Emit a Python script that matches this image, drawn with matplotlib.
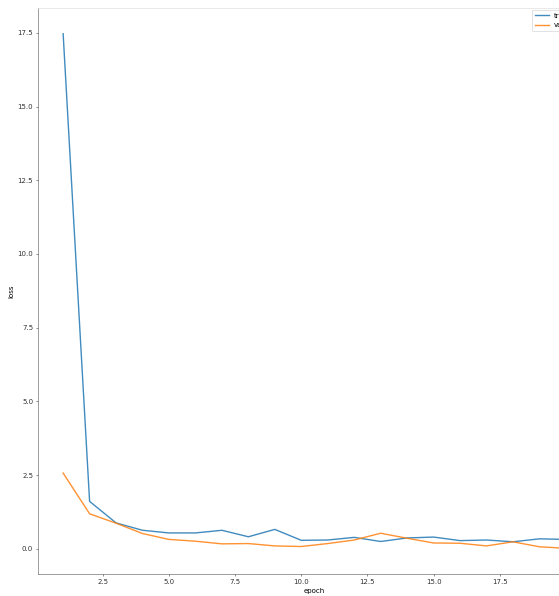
import matplotlib
matplotlib.use("Agg")
import matplotlib.pyplot as plt

epochs = list(range(1, 21))
train_loss = [17.47, 1.61, 0.88, 0.63, 0.54, 0.54, 0.63, 0.41, 0.66, 0.29,
              0.30, 0.39, 0.25, 0.37, 0.40, 0.28, 0.30, 0.24, 0.34, 0.32]
val_loss = [2.57, 1.19, 0.87, 0.52, 0.32, 0.26, 0.17, 0.18, 0.10, 0.08,
            0.18, 0.30, 0.53, 0.36, 0.20, 0.19, 0.10, 0.24, 0.07, 0.02]

W, H, DPI = 559, 596, 50
fig = plt.figure(figsize=(W / DPI, H / DPI), dpi=DPI)
# the original figure was wider than the crop, so the axes run past the right edge
ax = fig.add_axes([38 / W, 1 - 574 / H, (591 - 38) / W, (574 - 8) / H])

ax.plot(epochs, train_loss, label="train", lw=2, alpha=0.85)
ax.plot(epochs, val_loss, label="val", lw=2, alpha=0.85)
ax.set_xlabel("epoch")
ax.set_ylabel("loss")
ax.spines["top"].set_color("#d8d8d8")
ax.spines["left"].set_color("#555555")
ax.spines["bottom"].set_color("#555555")
ax.tick_params(colors="#333333")

ax.legend(loc="upper left", bbox_to_anchor=(532 / W, 1 - 10 / H),
          bbox_transform=fig.transFigure, borderaxespad=0)

fig.savefig("out.png", dpi=DPI)
